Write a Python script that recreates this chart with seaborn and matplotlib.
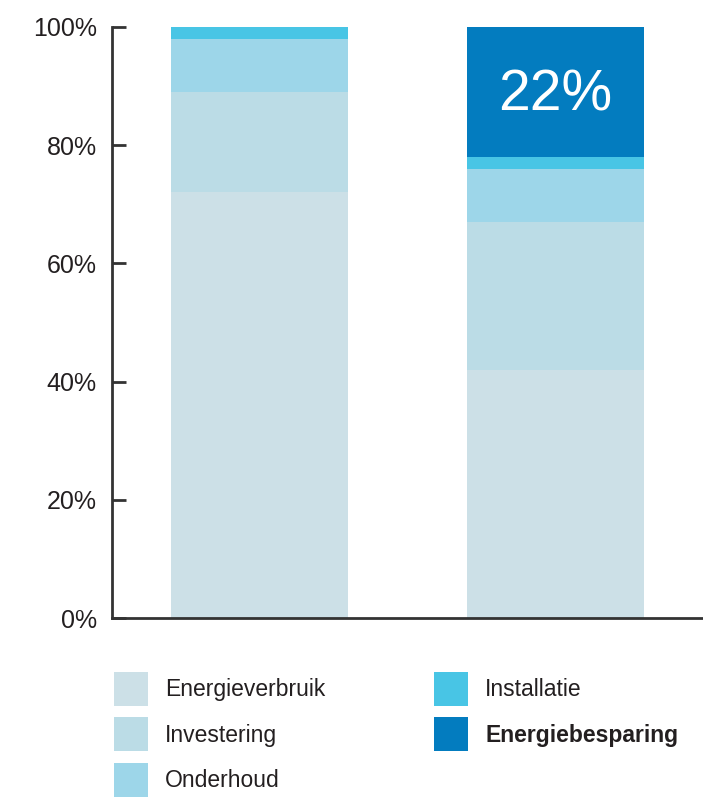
import numpy as np
import pandas as pd
import seaborn as sns
import matplotlib.pyplot as plt
from matplotlib.patches import Patch

# values in percent per bar (bottom to top)
bars = ["Huidig", "Nieuw"]
categories = ["Energieverbruik", "Investering", "Onderhoud", "Installatie", "Energiebesparing"]
energieverbruik = [72, 42]
investering = [17, 25]
onderhoud = [9, 9]
installatie = [2, 2]
energiebesparing = [0, 22]
colors = ["#CCE0E7", "#BBDCE6", "#9DD6E9", "#48C5E5", "#037CBF"]

sns.set_style("white")
plt.rcParams["font.family"] = ["Liberation Sans", "DejaVu Sans"]
text_color = "#231F20"

layers = [energieverbruik, investering, onderhoud, installatie, energiebesparing]
cum = np.cumsum(np.array(layers), axis=0)

fig = plt.figure(figsize=(7.03, 7.97), dpi=100)
ax = fig.add_axes([112 / 703, 1 - 618 / 797, 1 - 112 / 703, (618 - 27) / 797])

# draw cumulative totals from top layer down so lower layers overlay
for i in range(len(categories) - 1, -1, -1):
    df = pd.DataFrame({"bar": bars, "value": cum[i]})
    sns.barplot(data=df, x="bar", y="value", order=bars, color=colors[i],
                saturation=1, width=0.6, linewidth=0, ax=ax)

# label on the savings segment
ax.text(1, cum[3][1] + energiebesparing[1] / 2 - 0.6, f"{energiebesparing[1]}%",
        color="white", fontsize=41, ha="center", va="center")

ax.set_ylim(0, 100)
ax.set_xlim(-0.5, 1.5)
ax.set_yticks([0, 20, 40, 60, 80, 100])
ax.set_yticklabels([f"{v}%" for v in [0, 20, 40, 60, 80, 100]])
ax.set_xticks([])
ax.set_xlabel("")
ax.set_ylabel("")
ax.tick_params(axis="y", left=True, direction="in", length=10, width=2,
               color="#333333", labelsize=18, labelcolor=text_color, pad=11)
for s in ["top", "right"]:
    ax.spines[s].set_visible(False)
for s in ["left", "bottom"]:
    ax.spines[s].set_color("#333333")
    ax.spines[s].set_linewidth(2)

handles = [Patch(facecolor=c, edgecolor="none") for c in colors]
leg = fig.legend(handles, categories, ncol=2, frameon=False,
                 loc="upper left", bbox_to_anchor=(114 / 703, 1 - 672 / 797),
                 borderaxespad=0, borderpad=0, fontsize=16.5,
                 handlelength=1.485, handleheight=1.91, handletextpad=0.74,
                 labelspacing=0.49, columnspacing=4.76)
for t in leg.get_texts():
    t.set_color(text_color)
leg.get_texts()[-1].set_fontweight("bold")

fig.savefig("out.png", dpi=100)
